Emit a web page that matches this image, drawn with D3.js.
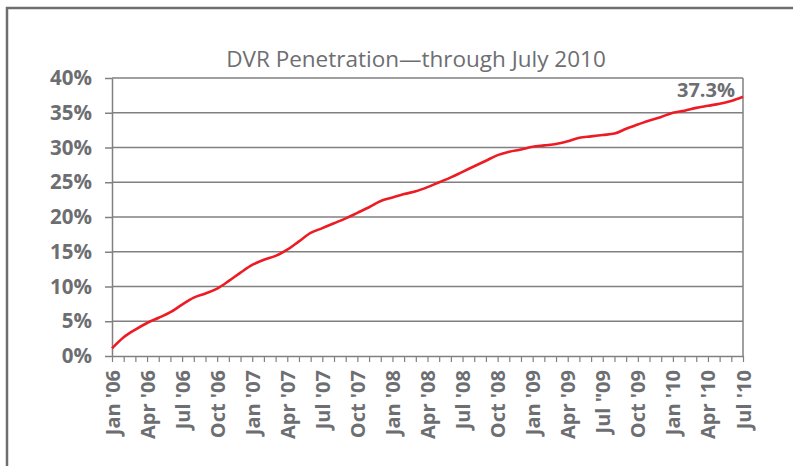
<!DOCTYPE html>
<html>
<head>
<meta charset="utf-8">
<script src="https://cdn.jsdelivr.net/npm/d3@7"></script>
<style>
  body { margin: 0; background: #fff; }
  svg { display: block; }
</style>
</head>
<body>
<svg id="chart" width="793" height="466"></svg>
<script>
const title = 'DVR Penetration\u2014through July 2010'
const endLabel = '37.3%'

// one value per month, Jan '06 .. Jul '10
const penetration = [
  1.1, 2.7, 3.8, 4.75, 5.5, 6.3, 7.4, 8.4, 9.0, 9.7, 10.8, 12.0,
  13.1, 13.85, 14.4, 15.3, 16.5, 17.7, 18.4, 19.1, 19.8, 20.6, 21.4, 22.3,
  22.8, 23.3, 23.7, 24.3, 25.0, 25.7, 26.5, 27.3, 28.1, 28.9, 29.4, 29.7,
  30.1, 30.3, 30.5, 30.9, 31.4, 31.6, 31.8, 32.0, 32.7, 33.3, 33.9, 34.4,
  35.0, 35.3, 35.7, 36.0, 36.3, 36.7, 37.3
]

// labels every third month
const tickLabels = [
  "Jan '06", "Apr '06", "Jul '06", "Oct '06",
  "Jan '07", "Apr '07", "Jul '07", "Oct '07",
  "Jan '08", "Apr '08", "Jul '08", "Oct '08",
  "Jan '09", "Apr '09", "Jul \"09", "Oct '09",
  "Jan '10", "Apr '10", "Jul '10"
]

const yTicks = [0, 5, 10, 15, 20, 25, 30, 35, 40]

const grey = '#6d6e71'
const svg = d3.select('#chart')

// outer frame (top and left edges)
svg.append('path')
  .attr('d', 'M7,466 L7,8 L793,8')
  .attr('fill', 'none')
  .attr('stroke', grey)
  .attr('stroke-width', 2.5)

const x = d3.scaleLinear().domain([0, penetration.length - 1]).range([112, 743])
const y = d3.scaleLinear().domain([0, 40]).range([356, 78])

svg.append('text')
  .attr('x', 416)
  .attr('y', 67)
  .attr('text-anchor', 'middle')
  .attr('font-family', 'Open Sans, sans-serif')
  .attr('font-size', 22.5)
  .attr('fill', grey)
  .text(title)

// gridlines
svg.append('g')
  .selectAll('line')
  .data(yTicks.filter(d => d > 0))
  .join('line')
  .attr('x1', x(0))
  .attr('x2', x(penetration.length - 1))
  .attr('y1', d => y(d))
  .attr('y2', d => y(d))
  .attr('stroke', '#808080')
  .attr('stroke-width', 1.5)

// right border of plot
svg.append('line')
  .attr('x1', x(penetration.length - 1))
  .attr('x2', x(penetration.length - 1))
  .attr('y1', y(40))
  .attr('y2', y(0))
  .attr('stroke', '#808080')
  .attr('stroke-width', 1.5)

const yAxis = svg.append('g')
  .attr('transform', `translate(${x(0)},0)`)
  .call(d3.axisLeft(y).tickValues(yTicks).tickSize(7).tickSizeOuter(0).tickPadding(13).tickFormat(d => d + '%'))

yAxis.select('.domain').attr('stroke', '#808080').attr('stroke-width', 1.5)
yAxis.selectAll('.tick line').attr('stroke', '#808080').attr('stroke-width', 1.5)
yAxis.selectAll('.tick text')
  .attr('font-family', 'Open Sans, sans-serif')
  .attr('font-size', 20.5)
  .attr('font-weight', 'bold')
  .attr('fill', grey)

const xAxis = svg.append('g')
  .attr('transform', `translate(0,${y(0)})`)
  .call(d3.axisBottom(x)
    .tickValues(d3.range(penetration.length))
    .tickSize(6)
    .tickSizeOuter(0)
    .tickFormat(i => i % 3 === 0 ? tickLabels[i / 3] : ''))

xAxis.select('.domain').attr('stroke', '#808080').attr('stroke-width', 1.5)
xAxis.selectAll('.tick line').attr('stroke', '#808080').attr('stroke-width', 1.2)
xAxis.selectAll('.tick text')
  .attr('font-family', 'Open Sans, sans-serif')
  .attr('font-size', 20)
  .attr('font-weight', 'bold')
  .attr('fill', grey)
  .attr('text-anchor', 'end')
  .attr('transform', 'rotate(-90)')
  .attr('x', -14)
  .attr('y', 0)
  .attr('dy', '0.35em')

const line = d3.line()
  .x((d, i) => x(i))
  .y(d => y(d))
  .curve(d3.curveMonotoneX)

svg.append('path')
  .datum(penetration)
  .attr('d', line)
  .attr('fill', 'none')
  .attr('stroke', '#ed1c24')
  .attr('stroke-width', 2.6)

svg.append('text')
  .attr('x', 735)
  .attr('y', 97)
  .attr('text-anchor', 'end')
  .attr('font-family', 'Open Sans, sans-serif')
  .attr('font-size', 20)
  .attr('font-weight', 'bold')
  .attr('fill', grey)
  .text(endLabel)
</script>
</body>
</html>
